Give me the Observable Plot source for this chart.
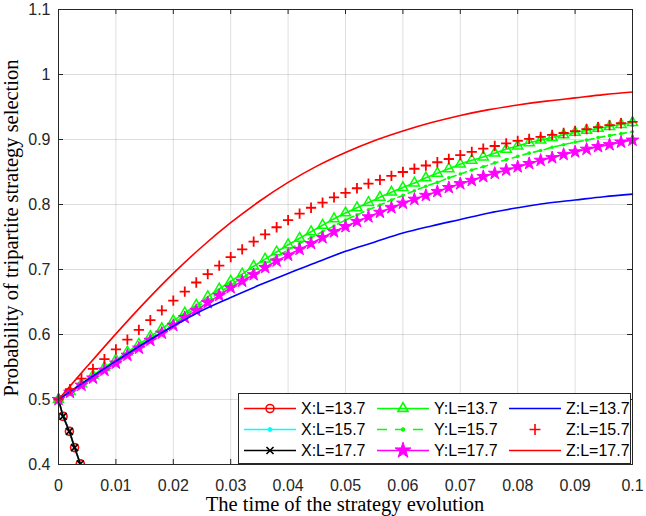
<!DOCTYPE html>
<html><head><meta charset="utf-8">
<script src="https://cdn.jsdelivr.net/npm/d3@7"></script>
<script src="https://cdn.jsdelivr.net/npm/@observablehq/plot@0.6"></script>
<style>body{margin:0;background:#fff;} #chart{width:646px;height:516px;}</style>
</head><body><div id="chart"></div>
<script>
// ---- tick values and labels ----
const xTicks = [0, 0.01, 0.02, 0.03, 0.04, 0.05, 0.06, 0.07, 0.08, 0.09, 0.1];
const xTickLabels = ["0", "0.01", "0.02", "0.03", "0.04", "0.05", "0.06", "0.07", "0.08", "0.09", "0.1"];
const yTicks = [0.4, 0.5, 0.6, 0.7, 0.8, 0.9, 1.0, 1.1];
const yTickLabels = ["0.4", "0.5", "0.6", "0.7", "0.8", "0.9", "1", "1.1"];
const xTitle = "The time of the strategy evolution";
const yTitle = "Probability of tripartite strategy selection";
const seriesLabels = ["X:L=13.7", "X:L=15.7", "X:L=17.7", "Y:L=13.7", "Y:L=15.7", "Y:L=17.7", "Z:L=13.7", "Z:L=15.7", "Z:L=17.7"];

// ---- time samples ----
const tFine = [0, 0.002, 0.004, 0.006, 0.008, 0.010, 0.012, 0.014, 0.016, 0.018,
  0.020, 0.022, 0.024, 0.026, 0.028, 0.030, 0.032, 0.034, 0.036, 0.038,
  0.040, 0.042, 0.044, 0.046, 0.048, 0.050, 0.052, 0.054, 0.056, 0.058,
  0.060, 0.062, 0.064, 0.066, 0.068, 0.070, 0.072, 0.074, 0.076, 0.078,
  0.080, 0.082, 0.084, 0.086, 0.088, 0.090, 0.092, 0.094, 0.096, 0.098, 0.100];
const tCoarse = [0, 0.005, 0.010, 0.015, 0.020, 0.025, 0.030, 0.035, 0.040, 0.045, 0.050,
  0.055, 0.060, 0.065, 0.070, 0.075, 0.080, 0.085, 0.090, 0.095, 0.100];
const tX = [0, 0.0008, 0.0019, 0.0028, 0.0038];

// ---- series values ----
const xL137 = [0.500, 0.474, 0.451, 0.426, 0.401];
const xL157 = [0.500, 0.474, 0.451, 0.426, 0.401];
const xL177 = [0.500, 0.474, 0.451, 0.426, 0.401];

const yL137 = [0.500, 0.512, 0.524, 0.537, 0.549, 0.561, 0.573, 0.585, 0.597, 0.609,
  0.621, 0.633, 0.645, 0.658, 0.670, 0.682, 0.693, 0.705, 0.716, 0.727,
  0.738, 0.748, 0.758, 0.768, 0.778, 0.787, 0.795, 0.803, 0.811, 0.819,
  0.826, 0.833, 0.841, 0.848, 0.855, 0.862, 0.868, 0.873, 0.879, 0.885,
  0.890, 0.895, 0.899, 0.903, 0.907, 0.911, 0.914, 0.917, 0.920, 0.923, 0.926];
const yL157 = [0.500, 0.512, 0.523, 0.535, 0.546, 0.558, 0.570, 0.582, 0.594, 0.605,
  0.617, 0.629, 0.641, 0.653, 0.664, 0.676, 0.687, 0.698, 0.709, 0.720,
  0.730, 0.740, 0.749, 0.758, 0.767, 0.776, 0.784, 0.792, 0.799, 0.807,
  0.814, 0.821, 0.828, 0.834, 0.841, 0.847, 0.853, 0.858, 0.864, 0.869,
  0.874, 0.879, 0.883, 0.888, 0.892, 0.896, 0.899, 0.903, 0.906, 0.909, 0.912];
const yL177 = [0.500, 0.511, 0.522, 0.533, 0.545, 0.556, 0.568, 0.579, 0.591, 0.602,
  0.614, 0.626, 0.637, 0.649, 0.660, 0.672, 0.682, 0.692, 0.703, 0.713,
  0.722, 0.731, 0.740, 0.749, 0.758, 0.766, 0.774, 0.781, 0.788, 0.795,
  0.802, 0.808, 0.814, 0.820, 0.826, 0.832, 0.837, 0.843, 0.848, 0.853,
  0.858, 0.863, 0.868, 0.872, 0.877, 0.881, 0.885, 0.889, 0.892, 0.896, 0.899];

const zL137 = [0.500, 0.530, 0.559, 0.587, 0.613, 0.637, 0.657, 0.676, 0.694, 0.711, 0.728,
  0.742, 0.756, 0.767, 0.777, 0.787, 0.795, 0.802, 0.807, 0.812, 0.816];
const zL157 = [0.500, 0.516, 0.532, 0.547, 0.562, 0.577, 0.592, 0.607, 0.622, 0.637,
  0.652, 0.666, 0.680, 0.693, 0.706, 0.719, 0.731, 0.743, 0.754, 0.765,
  0.776, 0.786, 0.795, 0.803, 0.811, 0.818, 0.825, 0.832, 0.838, 0.844,
  0.850, 0.855, 0.860, 0.865, 0.870, 0.876, 0.881, 0.886, 0.890, 0.894,
  0.898, 0.901, 0.904, 0.907, 0.910, 0.913, 0.916, 0.919, 0.922, 0.925, 0.927];
const zL177 = [0.500, 0.551, 0.601, 0.649, 0.694, 0.735, 0.772, 0.805, 0.834, 0.859, 0.880,
  0.898, 0.913, 0.926, 0.937, 0.946, 0.953, 0.959, 0.964, 0.969, 0.973];

// ---- build tables ----
const rowsOf = (t, v) => t.map((x, i) => ({t: x, v: v[i]}));
const dX137 = rowsOf(tX, xL137), dX157 = rowsOf(tX, xL157), dX177 = rowsOf(tX, xL177);
const dY137 = rowsOf(tFine, yL137), dY157 = rowsOf(tFine, yL157), dY177 = rowsOf(tFine, yL177);
const dZ137 = rowsOf(tCoarse, zL137), dZ157 = rowsOf(tFine, zL157), dZ177 = rowsOf(tCoarse, zL177);

const RED = "#ff0000", GREEN = "#00ff00", MAG = "#ff00ff", BLUE = "#0000ff", CYAN = "#00ffff", BLACK = "#000000";
const AX = "#262626";
const LW = 1.6;
const tickLenY = 0.7 * 5 / 455, tickLenX = 0.1 * 5 / 574;

const chart = Plot.plot({
  width: 646, height: 516,
  marginLeft: 58, marginRight: 14, marginTop: 9, marginBottom: 52,
  style: {fontFamily: "'Liberation Sans', Arial, sans-serif", fontSize: "16px", background: "#fff", color: AX, overflow: "visible"},
  x: {domain: [0, 0.1]},
  y: {domain: [0.4, 1.1]},
  marks: [
    Plot.gridX(xTicks, {stroke: "#000", strokeOpacity: 0.13, strokeWidth: 1}),
    Plot.gridY(yTicks, {stroke: "#000", strokeOpacity: 0.13, strokeWidth: 1}),
    Plot.axisX(xTicks, {tickSize: 0, tickPadding: 15, label: null, fontSize: 16, tickFormat: d => xTickLabels[xTicks.indexOf(d)]}),
    Plot.axisY(yTicks, {tickSize: 0, tickPadding: 8, label: null, fontSize: 16, tickFormat: d => yTickLabels[yTicks.indexOf(d)]}),
    // inward ticks (box on)
    Plot.ruleX(xTicks, {x: d => d, y1: 0.4, y2: 0.4 + tickLenY, stroke: AX}),
    Plot.ruleX(xTicks, {x: d => d, y1: 1.1, y2: 1.1 - tickLenY, stroke: AX}),
    Plot.ruleY(yTicks, {y: d => d, x1: 0, x2: tickLenX, stroke: AX}),
    Plot.ruleY(yTicks, {y: d => d, x1: 0.1, x2: 0.1 - tickLenX, stroke: AX}),
    // X series
    Plot.line(dX137, {x: "t", y: "v", stroke: RED, strokeWidth: LW, clip: true}),
    Plot.dot(dX137, {x: "t", y: "v", symbol: "circle", r: 4, stroke: RED, strokeWidth: 1.6, fill: "none", clip: true}),
    Plot.line(dX157, {x: "t", y: "v", stroke: CYAN, strokeWidth: LW, clip: true}),
    Plot.dot(dX157, {x: "t", y: "v", symbol: "circle", r: 2, fill: CYAN, stroke: "none", clip: true}),
    Plot.line(dX177, {x: "t", y: "v", stroke: BLACK, strokeWidth: LW, clip: true}),
    Plot.dot(dX177, {x: "t", y: "v", symbol: "times", r: 3.3, stroke: BLACK, strokeWidth: 1.6, fill: "none", clip: true}),
    // Y series
    Plot.line(dY137, {x: "t", y: "v", stroke: GREEN, strokeWidth: LW, curve: "catmull-rom"}),
    Plot.dot(dY137, {x: "t", y: "v", symbol: "triangle2", r: 4.8, stroke: GREEN, strokeWidth: 1.5, fill: "none"}),
    Plot.line(dY157, {x: "t", y: "v", stroke: GREEN, strokeWidth: LW, strokeDasharray: "7,4", curve: "catmull-rom"}),
    Plot.dot(dY157, {x: "t", y: "v", symbol: "circle", r: 1.8, fill: GREEN, stroke: "none"}),
    Plot.line(dY177, {x: "t", y: "v", stroke: MAG, strokeWidth: LW, curve: "catmull-rom"}),
    Plot.dot(dY177, {x: "t", y: "v", symbol: "star", r: 4, fill: MAG, stroke: MAG, strokeWidth: 1}),
    // Z series
    Plot.line(dZ137, {x: "t", y: "v", stroke: BLUE, strokeWidth: LW, curve: "catmull-rom"}),
    Plot.dot(dZ157, {x: "t", y: "v", symbol: "plus", r: 3.4, stroke: RED, strokeWidth: 1.8, fill: "none"}),
    Plot.line(dZ177, {x: "t", y: "v", stroke: RED, strokeWidth: LW, curve: "catmull-rom"}),
    Plot.frame({stroke: AX, strokeWidth: 1})
  ]
});
document.getElementById("chart").appendChild(chart);

// ---- axis titles ----
const svg = d3.select(chart);
svg.append("text")
  .attr("x", 345).attr("y", 511)
  .attr("text-anchor", "middle")
  .attr("font-family", "'Liberation Serif', 'Times New Roman', serif")
  .attr("font-size", 20.5).attr("fill", "#000")
  .text(xTitle);
svg.append("text")
  .attr("transform", "translate(18,228) rotate(-90)")
  .attr("text-anchor", "middle")
  .attr("font-family", "'Liberation Serif', 'Times New Roman', serif")
  .attr("font-size", 20.5).attr("fill", "#000")
  .text(yTitle);

// ---- legend ----
const legendItems = [
  {color: RED, line: true, dash: null, sym: d3.symbolCircle, r: 4, fill: false},
  {color: CYAN, line: true, dash: null, sym: d3.symbolCircle, r: 2, fill: true},
  {color: BLACK, line: true, dash: null, sym: d3.symbolTimes, r: 3.3, fill: false},
  {color: GREEN, line: true, dash: null, sym: d3.symbolTriangle2, r: 4.8, fill: false},
  {color: GREEN, line: true, dash: "10,8", sym: d3.symbolCircle, r: 1.8, fill: true},
  {color: MAG, line: true, dash: null, sym: d3.symbolStar, r: 5, fill: true},
  {color: BLUE, line: true, dash: null, sym: null},
  {color: RED, line: false, dash: null, sym: d3.symbolPlus, r: 3.6, fill: false},
  {color: RED, line: true, dash: null, sym: null}
];
const lg = svg.append("g").attr("text-anchor", "start");
lg.append("rect").attr("x", 238.5).attr("y", 393.5).attr("width", 392).attr("height", 70)
  .attr("fill", "#fff").attr("stroke", AX).attr("stroke-width", 1);
const colX = [244, 377, 509], rowY = [408.5, 429.5, 450.5];
legendItems.forEach((it, i) => {
  const c = Math.floor(i / 3), r = i % 3;
  const x0 = colX[c], y0 = rowY[r];
  if (it.line) {
    lg.append("line").attr("x1", x0).attr("x2", x0 + 52).attr("y1", y0).attr("y2", y0)
      .attr("stroke", it.color).attr("stroke-width", LW)
      .attr("stroke-dasharray", it.dash);
  }
  if (it.sym) {
    lg.append("path")
      .attr("transform", `translate(${x0 + 26},${y0})`)
      .attr("d", d3.symbol(it.sym, it.r * it.r * Math.PI)())
      .attr("fill", it.fill ? it.color : "none")
      .attr("stroke", it.color).attr("stroke-width", it.fill ? 1 : 1.6);
  }
  lg.append("text").attr("x", x0 + 57).attr("y", y0).attr("dy", "0.36em")
    .attr("text-anchor", "start")
    .attr("font-family", "'Liberation Sans', Arial, sans-serif").attr("font-size", 16)
    .attr("fill", "#000").text(seriesLabels[i]);
});
</script></body></html>
